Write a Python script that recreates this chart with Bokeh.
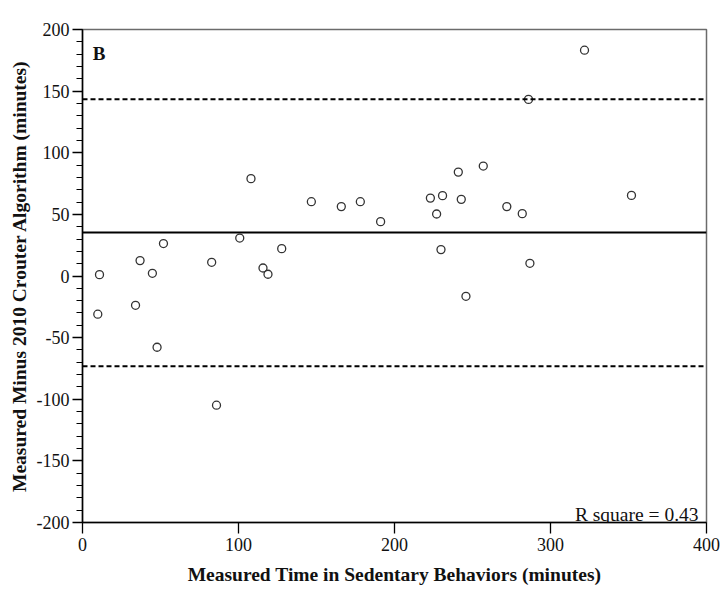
from bokeh.plotting import figure
from bokeh.models import Range1d, FixedTicker, Span, Label
from bokeh.embed import file_html
from bokeh.resources import INLINE

# Data
measured_time = [9.8, 10.9, 34.0, 36.9, 44.8, 47.8, 51.9, 82.8, 85.9, 100.8,
                 108.0, 115.7, 118.9, 127.7, 146.7, 165.9, 178.1, 191.1, 223.0, 227.0,
                 230.8, 229.8, 240.9, 242.8, 245.8, 256.9, 272.0, 281.9, 285.9, 286.8,
                 321.8, 351.9]
difference = [-31.0, 1.1, -23.8, 12.5, 2.2, -57.8, 26.3, 11.1, -104.8, 30.8,
              79.0, 6.5, 1.4, 22.2, 60.3, 56.3, 60.3, 44.1, 63.2, 50.3,
              65.2, 21.4, 84.3, 62.2, -16.5, 89.2, 56.3, 50.6, 143.3, 10.3,
              183.2, 65.4]
mean_difference = 35.2
upper_limit = 143.5
lower_limit = -73.2
x_ticks = [0, 100, 200, 300, 400]
y_ticks = [-200, -150, -100, -50, 0, 50, 100, 150, 200]
y_tick_labels = ["-200", "-150", "-100", "-50", "0", "50", "100", "150", "200"]
y_minor_ticks = [v for v in range(-200, 201, 10)]
panel_letter = "B"
r_square_text = "R square = 0.43"

FONT = "Liberation Serif"

p = figure(width=724, height=607, output_backend="svg", toolbar_location=None,
           x_range=Range1d(0, 400), y_range=Range1d(-200, 200),
           min_border_left=82, min_border_right=18, min_border_top=29, min_border_bottom=85,
           background_fill_color="white", border_fill_color="white")

p.xgrid.grid_line_color = None
p.ygrid.grid_line_color = None
p.outline_line_color = "#6b6b6b"
p.outline_line_width = 1.5

# Axes
p.xaxis.ticker = FixedTicker(ticks=x_ticks)
p.yaxis.ticker = FixedTicker(ticks=y_ticks, minor_ticks=y_minor_ticks)
p.yaxis.major_label_overrides = {t: s for t, s in zip(y_ticks, y_tick_labels)}
for ax in (p.xaxis, p.yaxis):
    ax.axis_line_color = "black"
    ax.axis_line_width = 1.5
    ax.major_tick_line_color = "black"
    ax.major_tick_line_width = 1.3
    ax.major_tick_in = 0
    ax.major_label_text_font = FONT
    ax.major_label_text_font_size = "18px"
    ax.major_label_text_color = "#111111"
    ax.axis_label_text_font = FONT
    ax.axis_label_text_font_style = "bold"
    ax.axis_label_text_font_size = "19.5px"
    ax.axis_label_text_color = "#111111"

p.xaxis.major_tick_out = 11
p.xaxis.minor_tick_line_color = None
p.xaxis.major_label_standoff = 4
p.xaxis.axis_label = "Measured Time in Sedentary Behaviors (minutes)"
p.xaxis.axis_label_standoff = 10

p.yaxis.major_tick_out = 10
p.yaxis.minor_tick_in = 0
p.yaxis.minor_tick_out = 6
p.yaxis.minor_tick_line_color = "black"
p.yaxis.minor_tick_line_width = 1.2
p.yaxis.major_label_standoff = 3
p.yaxis.axis_label = "Measured Minus 2010 Crouter Algorithm (minutes)"
p.yaxis.axis_label_standoff = 4

# Reference lines
p.add_layout(Span(location=upper_limit, dimension="width", line_color="black",
                  line_width=2, line_dash="5 3"))
p.add_layout(Span(location=mean_difference, dimension="width", line_color="black",
                  line_width=2))
p.add_layout(Span(location=lower_limit, dimension="width", line_color="black",
                  line_width=2, line_dash="5 3"))

# Points
p.scatter(measured_time, difference, marker="circle", size=8, fill_color=None,
          line_color="#333333", line_width=1.3)

# Annotations
p.add_layout(Label(x=6.6, y=180.5, text=panel_letter, text_font=FONT,
                   text_font_style="bold", text_font_size="19px", text_color="#111111",
                   text_baseline="alphabetic"))
p.add_layout(Label(x=394.9, y=-193.2, text=r_square_text, text_font=FONT,
                   text_font_size="19.5px", text_color="#111111", text_align="right",
                   text_baseline="alphabetic"))

open("out.html", "w").write(file_html(p, INLINE))
